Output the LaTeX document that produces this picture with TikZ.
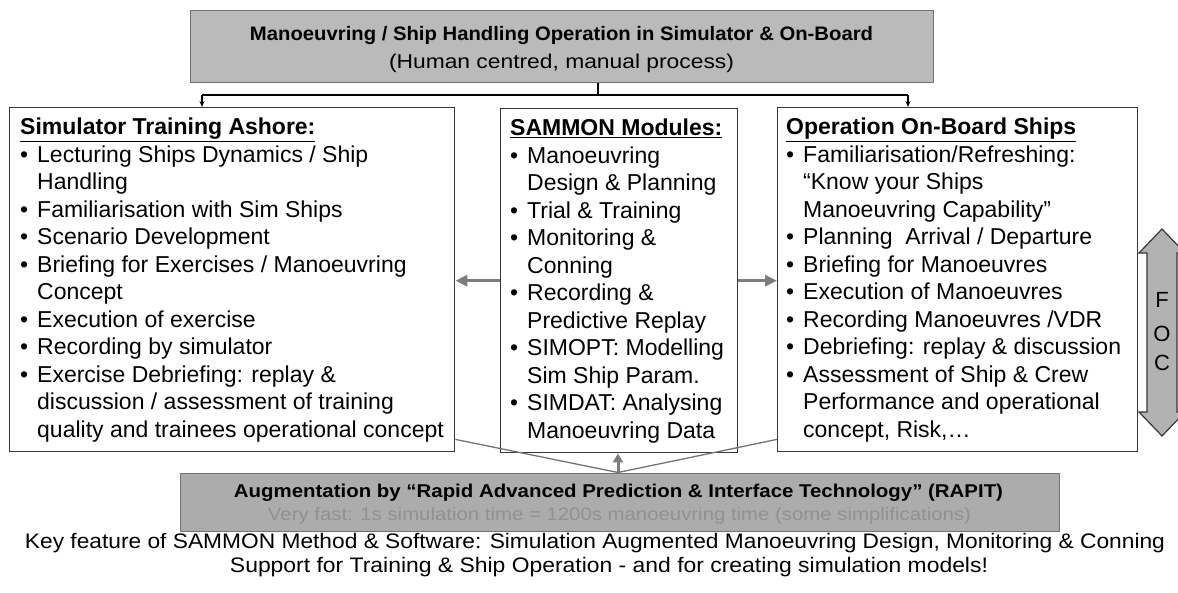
\documentclass[tikz,border=0pt]{standalone}
\usepackage{fontspec}
\setmainfont{Liberation Sans}
\usetikzlibrary{arrows.meta,calc}
\definecolor{topfill}{RGB}{186,186,186}
\definecolor{botfill}{RGB}{172,172,172}
\definecolor{boxline}{RGB}{55,55,55}
\definecolor{greyline}{RGB}{115,115,115}
\definecolor{arrowgrey}{RGB}{125,125,125}
\definecolor{fainttext}{RGB}{145,145,145}
\definecolor{focfill}{RGB}{178,178,178}
\newcommand{\bul}{\makebox[17pt][l]{•}}
\newcommand{\ind}{\hspace*{17pt}}
\begin{document}
\begin{tikzpicture}[x=1pt,y=-1pt,
  box/.style={draw=boxline, line width=1.4pt, fill=white, inner sep=0pt, anchor=north west},
  graybox/.style={draw=greyline, line width=1.2pt, inner sep=0pt, anchor=north west},
  listtext/.style={anchor=north west, inner sep=0pt, align=left, font=\fontsize{23}{27.5}\selectfont},
  linetext/.style={anchor=base, inner sep=0pt},
  conn/.style={draw=black, line width=1.2pt},
  connarrow/.style={conn, -{Stealth[length=6pt,width=5pt]}},
  sidearrow/.style={draw=arrowgrey, line width=3.5pt, -{Triangle[length=12pt,width=11pt]}},
  fanline/.style={draw=greyline, line width=1.3pt},
  uparrow/.style={draw=arrowgrey, line width=3pt, -{Triangle[length=9pt,width=10pt]}}
]
\clip (0,0) rectangle (1178,592);

% top box
\node[graybox, fill=topfill, minimum width=743pt, minimum height=72pt] (T) at (190,10) {};
\node[linetext] (T1) at (561.5,40) {\resizebox{623pt}{\height}{\fontsize{19.5}{22}\selectfont\bfseries Manoeuvring / Ship Handling Operation in Simulator \& On-Board}};
\node[linetext] (T2) at (561.5,68) {\resizebox{345pt}{\height}{\fontsize{20}{22}\selectfont (Human centred, manual process)}};

% three boxes
\node[box, minimum width=445pt, minimum height=344pt] (L) at (9,107) {};
\node[box, minimum width=237pt, minimum height=344pt] (M) at (500,108) {};
\node[box, minimum width=360pt, minimum height=344pt] (R) at (777,107) {};

% connectors from top box
\coordinate (j) at (598,95);
\coordinate (jl) at (202,95);
\coordinate (jr) at (908,95);
\draw[conn] (T.south -| j) -- (j);
\draw[conn] (jl) -- (jr);
\draw[connarrow] (jl) -- (jl |- L.north);
\draw[connarrow] (jr) -- (jr |- R.north);

% list texts
\node[listtext] (Lt) at (20,118) {%
\underline{\textbf{Simulator Training Ashore:}}\\
\bul Lecturing Ships Dynamics / Ship\\
\ind Handling\\
\bul Familiarisation with Sim Ships\\
\bul Scenario Development\\
\bul Briefing for Exercises / Manoeuvring\\
\ind Concept\\
\bul Execution of exercise\\
\bul Recording by simulator\\
\bul Exercise Debriefing: replay \&\\
\ind discussion / assessment of training\\
\ind quality and trainees operational concept};

\node[listtext] (Mt) at (510,119) {%
\underline{\textbf{SAMMON Modules:}}\\
\bul Manoeuvring\\
\ind Design \& Planning\\
\bul Trial \& Training\\
\bul Monitoring \&\\
\ind Conning\\
\bul Recording \&\\
\ind Predictive Replay\\
\bul SIMOPT: Modelling\\
\ind Sim Ship Param.\\
\bul SIMDAT: Analysing\\
\ind Manoeuvring Data};

\node[listtext] (Rt) at (786,118) {%
\underline{\textbf{Operation On-Board Ships}}\\
\bul Familiarisation/Refreshing:\\
\ind “Know your Ships\\
\ind Manoeuvring Capability”\\
\bul Planning \ Arrival / Departure\\
\bul Briefing for Manoeuvres\\
\bul Execution of Manoeuvres\\
\bul Recording Manoeuvres /VDR\\
\bul Debriefing: replay \& discussion\\
\bul Assessment of Ship \& Crew\\
\ind Performance and operational\\
\ind concept, Risk,…};

% side arrows
\draw[sidearrow] (M.west) -- (L.east |- M.west);
\draw[sidearrow] (M.east) -- (R.west |- M.east);

% FOC double arrow
\draw[draw=boxline, line width=1.2pt, fill=focfill]
  (1162,229) -- (1185,253) -- (1177,253) -- (1177,412) -- (1185,412) -- (1162,436)
  -- (1139,412) -- (1147,412) -- (1147,253) -- (1139,253) -- cycle;
\node[linetext, font=\fontsize{22}{24}\selectfont] (F) at (1162,307) {F};
\node[linetext, font=\fontsize{22}{24}\selectfont] (O) at (1162,341) {O};
\node[linetext, font=\fontsize{22}{24}\selectfont] (C) at (1162,370) {C};

% bottom box
\node[graybox, fill=botfill, minimum width=879pt, minimum height=58pt] (B) at (180,472.5) {};
\coordinate (Bt) at (618,472.5);
\draw[fanline] (Bt) -- ([yshift=13pt]L.south east);
\draw[fanline] (Bt) -- ([yshift=13pt]R.south west);
\draw[uparrow] (Bt) -- (Bt |- M.south);
\node[linetext] (B1) at (618.5,497) {\resizebox{769pt}{\height}{\fontsize{18.5}{21}\selectfont\bfseries Augmentation by “Rapid Advanced Prediction \& Interface Technology” (RAPIT)}};
\node[linetext, text=fainttext] (B2) at (619.5,520) {\resizebox{703pt}{\height}{\fontsize{18}{21}\selectfont Very fast: 1s simulation time = 1200s manoeuvring time (some simplifications)}};

% caption
\node[linetext] (K1) at (595,548) {\resizebox{1140pt}{\height}{\fontsize{21}{23}\selectfont Key feature of SAMMON Method \& Software: Simulation Augmented Manoeuvring Design, Monitoring \& Conning}};
\node[linetext] (K2) at (609,572) {\resizebox{758pt}{\height}{\fontsize{21}{23}\selectfont Support for Training \& Ship Operation - and for creating simulation models!}};
\end{tikzpicture}
\end{document}
